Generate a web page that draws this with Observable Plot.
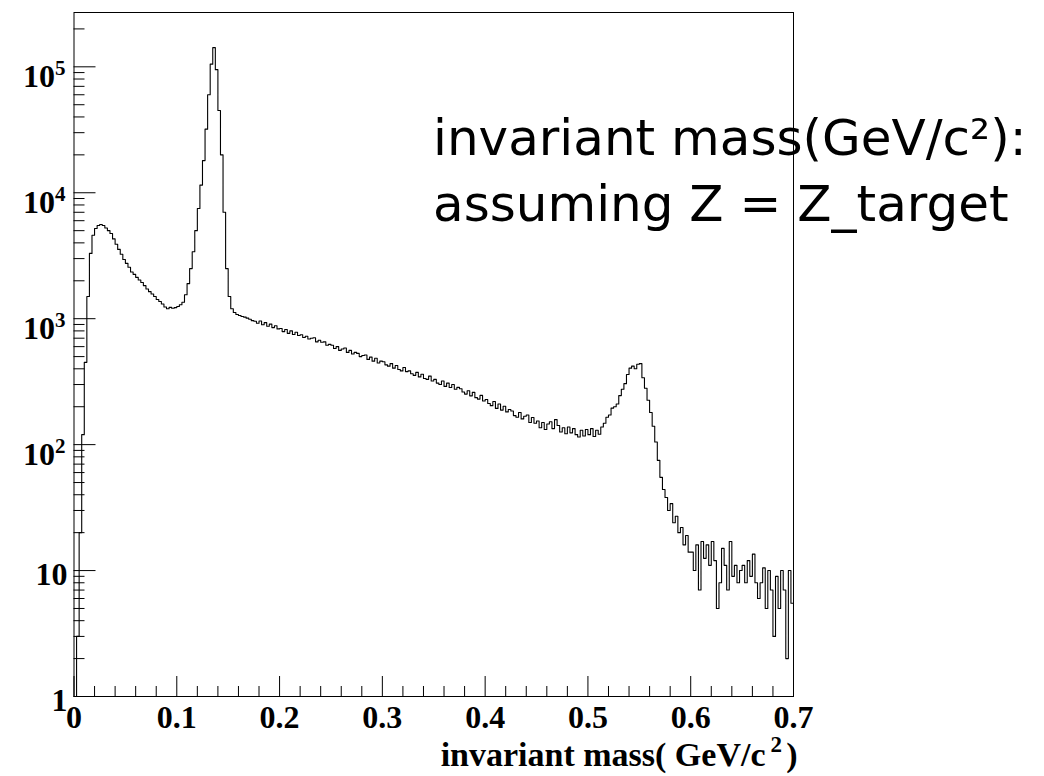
<!DOCTYPE html>
<html><head><meta charset="utf-8">
<script src="https://cdn.jsdelivr.net/npm/d3@7"></script>
<script src="https://cdn.jsdelivr.net/npm/@observablehq/plot@0.6"></script>
<style>
html,body{margin:0;padding:0;background:#fff;}
#chart svg{display:block;}
</style>
</head><body><div id="chart"></div>
<script>
// ---- data ----
const binWidth = 0.0025; // GeV per bin, bins start at 0
const counts = [
  1, 3, 20, 120, 450, 1500, 3300, 4600, 5200, 5500,
  5600, 5500, 5250, 5000, 4750, 4300, 3900, 3550, 3250, 2950,
  2750, 2560, 2350, 2250, 2130, 2030, 1940, 1830, 1720, 1640,
  1570, 1500, 1420, 1370, 1310, 1240, 1200, 1230, 1210, 1225,
  1250, 1290, 1350, 1550, 1900, 2500, 3400, 5000, 7500, 11500,
  18000, 32000, 60000, 105000, 142000, 95000, 45000, 20000, 7000, 2500,
  1500, 1200, 1120, 1080, 1060, 1040, 1030, 1010, 990, 965,
  955, 920, 960, 895, 930, 870, 905, 850, 880, 830,
  835, 790, 820, 765, 800, 750, 780, 735, 745, 710,
  725, 690, 700, 705, 655, 675, 650, 655, 615, 625,
  615, 580, 600, 560, 575, 585, 540, 560, 525, 540,
  530, 500, 510, 515, 475, 495, 460, 485, 445, 460,
  455, 430, 420, 440, 405, 425, 395, 385, 410, 380,
  385, 365, 355, 375, 345, 362, 335, 330, 350, 320,
  330, 308, 300, 320, 290, 308, 284, 300, 275, 285,
  278, 262, 252, 268, 244, 260, 236, 230, 246, 222,
  228, 212, 204, 220, 194, 210, 188, 202, 182, 190,
  185, 170, 165, 180, 160, 168, 172, 150, 164, 148,
  154, 136, 150, 132, 146, 152, 134, 158, 142, 126,
  136, 122, 138, 124, 134, 120, 115, 130, 117, 132,
  120, 134, 116, 130, 121, 138, 148, 165, 172, 195,
  200, 210, 245, 275, 305, 360, 405, 420, 400, 435,
  440, 340, 280, 225, 180, 140, 105, 75, 55, 44,
  38, 30, 34, 24, 27, 20, 22, 16, 19, 14,
  14, 10, 16, 7, 17, 12.5, 16, 11, 17, 12,
  5, 8, 15, 11, 7, 17, 9, 11, 8, 10,
  11, 8, 12, 9, 13.5, 8, 6, 8, 10.5, 5,
  10, 7, 3, 9, 5, 10, 7, 2, 10, 5.5
];

const xMajorTicks = [0, 0.1, 0.2, 0.3, 0.4, 0.5, 0.6, 0.7];
const xTickLabels = ["0", "0.1", "0.2", "0.3", "0.4", "0.5", "0.6", "0.7"];
const xMinorTicks = [0.02, 0.04, 0.06, 0.08, 0.12, 0.14, 0.16, 0.18, 0.22, 0.24, 0.26, 0.28,
  0.32, 0.34, 0.36, 0.38, 0.42, 0.44, 0.46, 0.48, 0.52, 0.54, 0.56, 0.58, 0.62, 0.64, 0.66, 0.68];

const yMajorTicks = [1, 10, 100, 1000, 10000, 100000];
const yTickBase = ["1", "10", "10", "10", "10", "10"];
const yTickExp = ["", "", "2", "3", "4", "5"];
const yMinorTicks = [2, 3, 4, 5, 6, 7, 8, 9,
  20, 30, 40, 50, 60, 70, 80, 90,
  200, 300, 400, 500, 600, 700, 800, 900,
  2000, 3000, 4000, 5000, 6000, 7000, 8000, 9000,
  20000, 30000, 40000, 50000, 60000, 70000, 80000, 90000,
  200000];

const annotationLines = ["invariant mass(GeV/c²):", "assuming Z = Z_target"];
const xTitleParts = ["invariant mass( GeV/c", "2", ")"];

// ---- build the step outline table from the bins ----
const steps = counts.map((c, i) => ({x: i * binWidth, y: c}));
steps.push({x: counts.length * binWidth, y: counts[counts.length - 1]});

const serif = "'Liberation Serif', 'Times New Roman', serif";
const hand = "'DejaVu Sans', sans-serif";

const chart = Plot.plot({
  width: 1044,
  height: 776,
  marginLeft: 73.5,
  marginRight: 251,
  marginTop: 12,
  marginBottom: 80,
  style: {background: "white", color: "black", fontFamily: serif},
  x: {domain: [0, 0.7]},
  y: {type: "log", domain: [1, 270000], clamp: true},
  marks: [
    Plot.line(steps, {x: "x", y: "y", curve: "step-after", stroke: "black", strokeWidth: 1.1}),
    Plot.frame({stroke: "black", strokeWidth: 1}),
    // ticks inside the frame (ROOT style)
    Plot.axisX({ticks: xMajorTicks, tickSize: -20, tickFormat: () => "", label: null, stroke: "black"}),
    Plot.axisX({ticks: xMinorTicks, tickSize: -10, tickFormat: () => "", label: null, stroke: "black"}),
    Plot.axisY({ticks: yMajorTicks, tickSize: -22, tickFormat: () => "", label: null, stroke: "black"}),
    Plot.axisY({ticks: yMinorTicks, tickSize: -11, tickFormat: () => "", label: null, stroke: "black"}),
    // x tick labels
    Plot.text(xMajorTicks, {x: d => d, text: (d, i) => xTickLabels[i], frameAnchor: "bottom",
      lineAnchor: "bottom", dy: 31, textAnchor: "middle", fontSize: 32, fontWeight: "bold", fontFamily: serif}),
    // y tick labels: plain
    Plot.text(yMajorTicks, {filter: (d, i) => yTickExp[i] === "", y: d => d, text: (d, i) => yTickBase[i],
      frameAnchor: "left", textAnchor: "end", lineAnchor: "bottom", dx: -6.5, dy: 14,
      fontSize: 32, fontWeight: "bold", fontFamily: serif}),
    // y tick labels: 10 with exponent
    Plot.text(yMajorTicks, {filter: (d, i) => yTickExp[i] !== "", y: d => d, text: (d, i) => yTickBase[i],
      frameAnchor: "left", textAnchor: "end", lineAnchor: "bottom", dx: -19, dy: 20,
      fontSize: 32, fontWeight: "bold", fontFamily: serif}),
    Plot.text(yMajorTicks, {filter: (d, i) => yTickExp[i] !== "", y: d => d, text: (d, i) => yTickExp[i],
      frameAnchor: "left", textAnchor: "start", lineAnchor: "bottom", dx: -19, dy: 8,
      fontSize: 21, fontWeight: "bold", fontFamily: serif}),
    // x title (with raised exponent)
    Plot.text([xTitleParts[0]], {frameAnchor: "bottom-right", textAnchor: "end", lineAnchor: "bottom",
      dx: -28, dy: 69, fontSize: 34, fontWeight: "bold", fontFamily: serif}),
    Plot.text([xTitleParts[1]], {frameAnchor: "bottom-right", textAnchor: "start", lineAnchor: "bottom",
      dx: -23, dy: 55, fontSize: 23, fontWeight: "bold", fontFamily: serif}),
    Plot.text([xTitleParts[2]], {frameAnchor: "bottom-right", textAnchor: "end", lineAnchor: "bottom",
      dx: 4, dy: 69, fontSize: 34, fontWeight: "bold", fontFamily: serif}),
    // annotation
    Plot.text([annotationLines[0]], {frameAnchor: "top-left", textAnchor: "start", lineAnchor: "bottom",
      dx: 359, dy: 142, fontSize: 50, fontFamily: hand}),
    Plot.text([annotationLines[1]], {frameAnchor: "top-left", textAnchor: "start", lineAnchor: "bottom",
      dx: 359, dy: 208, fontSize: 50, fontFamily: hand})
  ]
});
document.getElementById("chart").appendChild(chart);
</script>
</body></html>
